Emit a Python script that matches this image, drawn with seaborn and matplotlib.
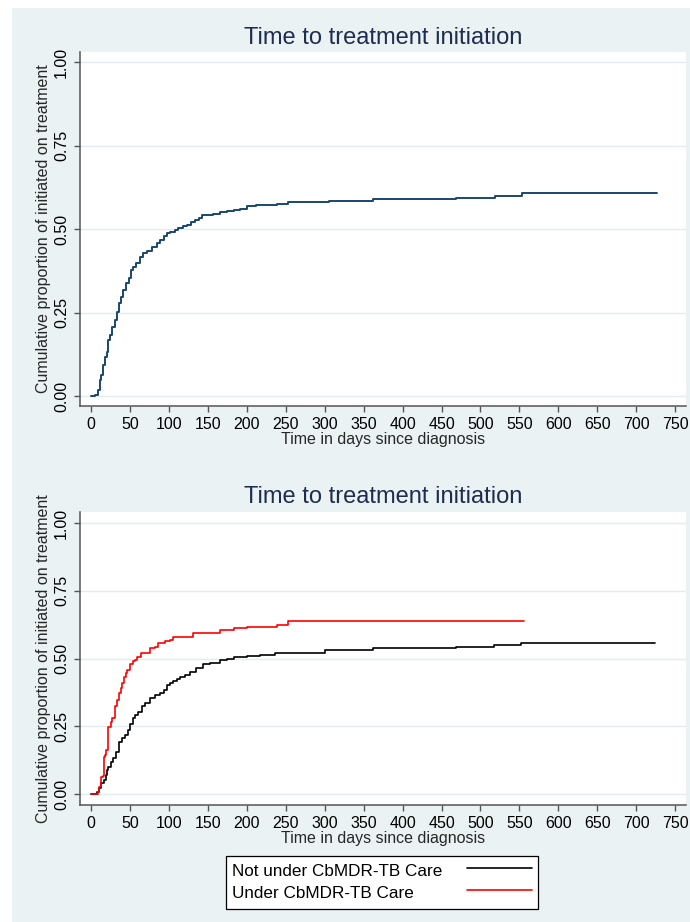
import matplotlib
matplotlib.use("Agg")
import matplotlib.pyplot as plt
from matplotlib.patches import Rectangle
from matplotlib.lines import Line2D
import seaborn as sns
import pandas as pd

# ---- data ----
overall_days = [0, 5, 8, 11, 13, 15, 18, 20, 22, 24, 27, 30, 33, 35, 38, 41, 44, 48, 51, 54,
                58, 63, 67, 72, 78, 84, 88, 93, 97, 101, 107, 112, 118, 123, 128, 133, 138,
                142, 148, 157, 165, 174, 183, 191, 200, 212, 225, 238, 253, 305, 362, 469,
                518, 553, 727]
overall_prop = [0, 0.003, 0.018, 0.048, 0.063, 0.093, 0.118, 0.133, 0.168, 0.183, 0.208,
                0.228, 0.253, 0.278, 0.298, 0.318, 0.338, 0.353, 0.378, 0.388, 0.398, 0.418,
                0.428, 0.436, 0.448, 0.460, 0.468, 0.480, 0.488, 0.493, 0.498, 0.503, 0.508,
                0.513, 0.520, 0.528, 0.533, 0.541, 0.543, 0.546, 0.551, 0.555, 0.557, 0.561,
                0.568, 0.571, 0.573, 0.576, 0.580, 0.585, 0.589, 0.594, 0.600, 0.607, 0.607]

under_days = [0, 5, 8, 10, 12, 15, 16, 18, 19, 21, 22, 25, 27, 30, 31, 33, 36, 38, 40, 42,
              44, 46, 50, 53, 56, 59, 64, 69, 75, 82, 86, 95, 101, 105, 131, 165, 183, 200,
              238, 253, 556]
under_prop = [0, 0, 0.009, 0.027, 0.064, 0.066, 0.136, 0.144, 0.163, 0.193, 0.249, 0.267,
              0.280, 0.298, 0.323, 0.347, 0.372, 0.390, 0.409, 0.433, 0.446, 0.458, 0.480,
              0.489, 0.495, 0.507, 0.520, 0.522, 0.538, 0.541, 0.557, 0.563, 0.569, 0.581,
              0.593, 0.606, 0.612, 0.618, 0.624, 0.637, 0.637]

not_days = [0, 7, 10, 13, 16, 19, 20, 22, 25, 28, 32, 35, 39, 43, 47, 50, 53, 56, 60, 65,
            69, 75, 82, 88, 93, 97, 101, 105, 110, 114, 120, 127, 135, 144, 153, 165, 174,
            183, 200, 217, 236, 300, 362, 469, 517, 552, 724]
not_prop = [0, 0.009, 0.021, 0.040, 0.052, 0.070, 0.089, 0.101, 0.119, 0.132, 0.156, 0.193,
            0.206, 0.218, 0.236, 0.259, 0.280, 0.292, 0.304, 0.323, 0.337, 0.353, 0.366,
            0.374, 0.384, 0.403, 0.409, 0.417, 0.424, 0.433, 0.440, 0.452, 0.464, 0.480,
            0.485, 0.493, 0.497, 0.504, 0.510, 0.513, 0.520, 0.532, 0.538, 0.542, 0.549,
            0.558, 0.558]

group_labels = ["Not under CbMDR-TB Care", "Under CbMDR-TB Care"]
group_colors = ["black", "red"]
x_ticks = list(range(0, 751, 50))
y_ticks = [0, 0.25, 0.5, 0.75, 1.0]
y_tick_labels = ["0.00", "0.25", "0.50", "0.75", "1.00"]
title_text = "Time to treatment initiation"
x_label = "Time in days since diagnosis"
y_label = "Cumulative proportion of initiated on treatment"

# ---- style ----
sns.set_style("white")
plt.rcParams["font.family"] = ["Liberation Sans", "DejaVu Sans"]

W, H = 690, 922
BG = "#eaf2f3"
NAVY = "#1a476f"
TITLE_C = "#1e2d4f"
SPINE_C = "#555555"
FS = 11.5

fig = plt.figure(figsize=(W / 100, H / 100), dpi=100)
fig.patch.set_facecolor("white")
fig.patches.append(Rectangle((12 / W, 0), 1 - 12 / W, 1 - 8 / H,
                             transform=fig.transFigure, facecolor=BG,
                             edgecolor="none", zorder=-10))


def make_ax(top, bottom):
    ax = fig.add_axes([80 / W, 1 - bottom / H, 606 / W, (bottom - top) / H])
    ax.set_facecolor("white")
    for s in ["top", "right"]:
        ax.spines[s].set_visible(False)
    for s in ["left", "bottom"]:
        ax.spines[s].set_color(SPINE_C)
        ax.spines[s].set_linewidth(1.1)
    ax.set_xlim(-14.5, 764)
    ax.set_xticks(x_ticks)
    ax.set_xticklabels([str(t) for t in x_ticks])
    ax.set_yticks(y_ticks)
    ax.set_yticklabels(y_tick_labels, rotation=90, va="center")
    ax.tick_params(axis="both", which="major", direction="out", length=4, width=1,
                   color=SPINE_C, labelsize=FS, labelcolor="black", pad=4,
                   bottom=True, left=True)
    ax.yaxis.grid(True, color="#e3ecee", linewidth=1)
    ax.xaxis.grid(False)
    ax.set_axisbelow(True)
    return ax


# top panel
ax1 = make_ax(52, 406)
ax1.set_ylim(-0.030, 1.031)
df1 = pd.DataFrame({"days": overall_days, "prop": overall_prop})
sns.lineplot(data=df1, x="days", y="prop", drawstyle="steps-post", estimator=None,
             color=NAVY, linewidth=1.4, ax=ax1)
ax1.set_xlabel(x_label, fontsize=FS, labelpad=0)
ax1.set_ylabel(y_label, fontsize=FS, labelpad=2)
fig.text(383 / W, 1 - 38 / H, title_text, fontsize=17, color=TITLE_C,
         ha="center", va="center")

# bottom panel
ax2 = make_ax(512, 805)
ax2.set_ylim(-0.0406, 1.0406)
df_not = pd.DataFrame({"days": not_days, "prop": not_prop, "group": group_labels[0]})
df_under = pd.DataFrame({"days": under_days, "prop": under_prop, "group": group_labels[1]})
df2 = pd.concat([df_not, df_under], ignore_index=True)
sns.lineplot(data=df2, x="days", y="prop", hue="group", hue_order=group_labels,
             palette=group_colors, drawstyle="steps-post", estimator=None,
             linewidth=1.2, ax=ax2, legend=False)
ax2.set_xlabel(x_label, fontsize=FS, labelpad=0)
ax2.set_ylabel(y_label, fontsize=FS, labelpad=2)
fig.text(383 / W, 1 - 497 / H, title_text, fontsize=17, color=TITLE_C,
         ha="center", va="center")

# legend box (text first, key line on the right, left-aligned text)
fig.patches.append(Rectangle((226 / W, 1 - 909 / H), (538 - 226) / W, (909 - 856) / H,
                             transform=fig.transFigure, facecolor="white",
                             edgecolor="black", linewidth=0.9, zorder=5))
for i, (lab, col) in enumerate(zip(group_labels, group_colors)):
    ty = 871 + i * 22
    fig.text(232 / W, 1 - ty / H, lab, fontsize=12.3, color="black",
             ha="left", va="center", zorder=6)
    fig.add_artist(Line2D([467 / W, 532 / W], [1 - (ty - 3) / H, 1 - (ty - 3) / H],
                          transform=fig.transFigure, color=col, linewidth=1.2, zorder=6))

fig.savefig("out.png", dpi=100, facecolor=fig.get_facecolor())
